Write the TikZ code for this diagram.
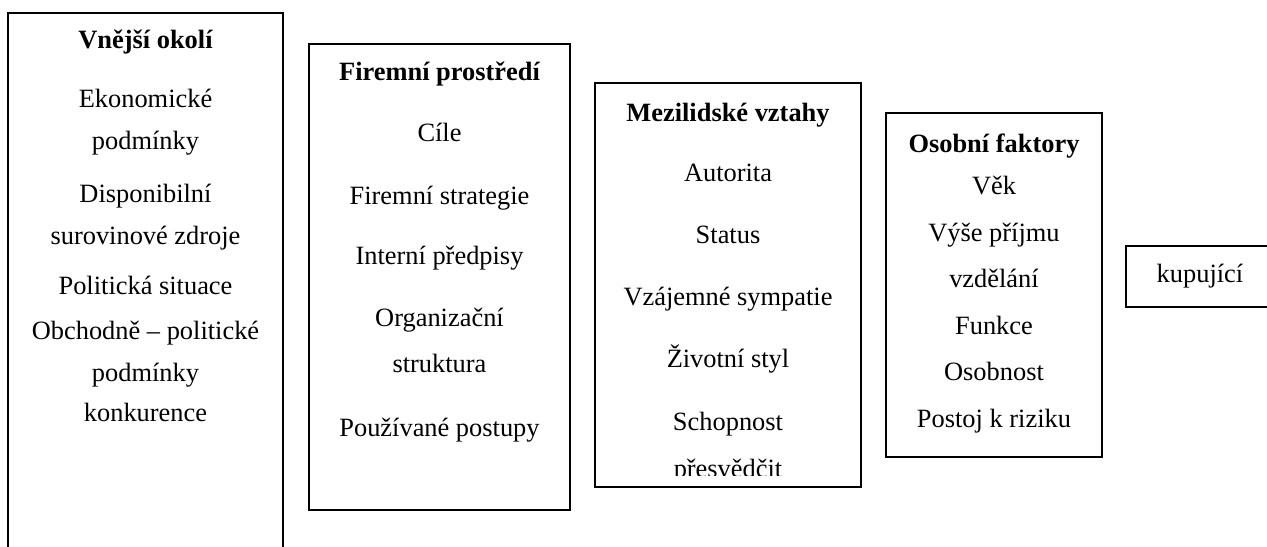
\documentclass[tikz,border=0pt]{standalone}
\usepackage{fontspec}
\setmainfont{Liberation Serif}
\begin{document}
\begin{tikzpicture}[x=0.4545pt,y=-0.4545pt,
  frame/.style={line width=0.9pt},
  item/.style={anchor=base,font=\fontsize{12}{14}\selectfont},
  head/.style={item,font=\fontsize{12}{14}\selectfont\bfseries}]
  \useasboundingbox (0,0) rectangle (1267,547);
  % Vnejsi okoli
  \draw[frame] (8,13) rectangle (283,580);
  \node[head] (okoli) at (145.5,49) {Vnější okolí};
  \foreach \t/\y [count=\i] in {Ekonomické/108, podmínky/150, Disponibilní/203,
      surovinové zdroje/245, Politická situace/295, Obchodně – politické/340,
      podmínky/382, konkurence/422}
    \node[item] (okoli\i) at (145.5,\y) {\t};
  % Firemni prostredi
  \draw[frame] (309,44) rectangle (570,510);
  \node[head] (firma) at (439.5,81) {Firemní prostředí};
  \foreach \t/\y [count=\i] in {Cíle/142, Firemní strategie/205, Interní předpisy/265,
      Organizační/327, struktura/373, Používané postupy/437}
    \node[item] (firma\i) at (439.5,\y) {\t};
  % Mezilidske vztahy
  \draw[frame] (595,83) rectangle (861,487);
  \begin{scope}
    \clip (595,83) rectangle (861,476);
    \node[head] (vztahy) at (728,122) {Mezilidské vztahy};
    \foreach \t/\y [count=\i] in {Autorita/182, Status/244, Vzájemné sympatie/306,
        Životní styl/368, Schopnost/430, přesvědčit/478}
      \node[item] (vztahy\i) at (728,\y) {\t};
  \end{scope}
  % Osobni faktory
  \draw[frame] (886,113) rectangle (1102,457);
  \node[head] (osoba) at (994,153) {Osobní faktory};
  \foreach \t/\y [count=\i] in {Věk/195, Výše příjmu/242, vzdělání/288,
      Funkce/335, Osobnost/381, Postoj k riziku/428}
    \node[item] (osoba\i) at (994,\y) {\t};
  % kupujici
  \draw[frame] (1126,246) rectangle (1280,307);
  \node[item] (kupujici) at (1200,283) {kupující};
\end{tikzpicture}
\end{document}
